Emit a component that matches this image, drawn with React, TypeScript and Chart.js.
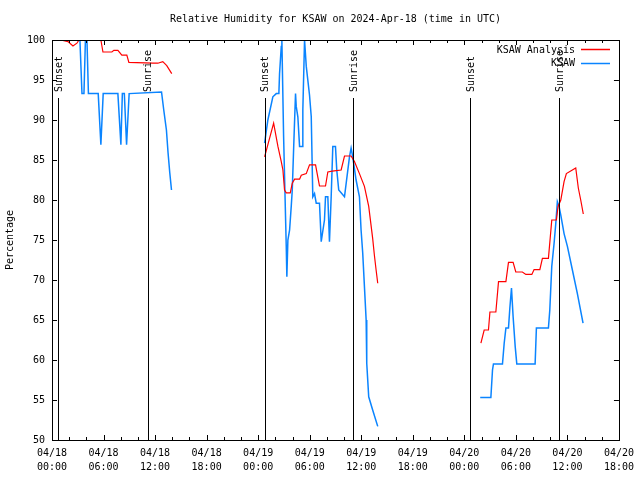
import React, { useEffect, useRef } from "react";
import { Chart, registerables } from "chart.js";

Chart.register(...registerables);

const TITLE = "Relative Humidity for KSAW on 2024-Apr-18 (time in UTC)";
const Y_TITLE = "Percentage";
const FONT = "'DejaVu Sans Mono', monospace";

const xTickDates = ["04/18", "04/18", "04/18", "04/18", "04/19", "04/19", "04/19", "04/19", "04/20", "04/20", "04/20", "04/20"];
const xTickTimes = ["00:00", "06:00", "12:00", "18:00", "00:00", "06:00", "12:00", "18:00", "00:00", "06:00", "12:00", "18:00"];

// hours since 04/18 00:00 UTC
const analysisHours = [
  1.01, 1.86, 2.44, 2.9, 3.14, 4.4, 5.69, 5.93, 6.97, 7.2, 7.67, 8.13, 8.71, 8.95, 11.74, 12.32, 12.9, 13.36, 13.94,
  19.0,
  24.75, 25.8, 26.3, 26.69, 26.88, 27.07, 27.27, 27.74, 27.97, 28.24, 28.82, 29.02, 29.6, 29.98, 30.68, 30.94, 31.14,
  31.84, 32.11, 32.62, 33.66, 34.05, 34.82, 35.21, 35.79, 36.37, 36.87, 37.33, 37.53, 37.73, 37.92,
  43.0,
  49.93, 50.31, 50.81, 50.98, 51.67, 51.98, 52.84, 53.14, 53.68, 53.99, 54.76, 55.16, 55.86, 56.12, 56.79, 57.09,
  57.79, 58.18, 58.72, 58.91, 59.23, 59.61, 59.88, 60.58, 60.97, 61.27, 61.55, 61.85,
];
const analysisValues = [
  100.0, 99.8, 99.25, 99.6, 100.0, 100.0, 100.0, 98.5, 98.5, 98.7, 98.7, 98.1, 98.1, 97.2, 97.1, 97.1, 97.3, 96.8, 95.8,
  null,
  85.4, 89.6, 86.7, 84.8, 83.75, 81.25, 80.9, 80.9, 82.1, 82.6, 82.6, 83.1, 83.3, 84.4, 84.4, 82.9, 81.75,
  81.75, 83.5, 83.6, 83.75, 85.5, 85.5, 84.8, 83.3, 81.7, 79.2, 75.2, 73.1, 71.25, 69.6,
  null,
  62.1, 63.75, 63.75, 66.0, 66.0, 69.8, 69.8, 72.2, 72.2, 71.0, 71.0, 70.7, 70.7, 71.3, 71.3, 72.7,
  72.7, 77.5, 77.5, 79.2, 80.0, 82.3, 83.3, 83.75, 84.0, 81.5, 80.0, 78.25,
];

const obsHours = [
  3.25, 3.49, 3.72, 3.89, 4.07, 4.24, 5.38, 5.69, 5.96, 7.67, 8.02, 8.19, 8.42, 8.68, 8.98, 12.75, 13.01, 13.32,
  13.51, 13.71, 13.91,
  19.0,
  24.75, 25.13, 25.71, 26.11, 26.41, 26.49, 26.69, 26.76, 26.96, 27.27, 27.34, 27.46, 27.66, 27.85, 27.97, 28.15,
  28.35, 28.43, 28.62, 28.82, 29.13, 29.2, 29.4, 29.6, 29.98, 30.18, 30.36, 30.56, 30.76, 31.14, 31.34, 31.72,
  31.84, 32.11, 32.3, 32.5, 32.69, 33.0, 33.15, 33.38, 34.05, 34.63, 34.82, 35.01, 35.4, 35.79, 35.98, 36.17,
  36.37, 36.57, 36.64, 36.87, 37.33, 37.92,
  43.0,
  49.85, 51.09, 51.28, 51.39, 52.44, 52.64, 52.84, 53.14, 53.3, 53.49, 53.68, 53.92, 54.11, 56.24, 56.39, 57.79,
  57.95, 58.18, 58.45, 58.65, 58.83, 59.03, 59.23, 59.61, 60.0, 60.58, 61.16, 61.82,
];
const obsValues = [
  100.0, 93.3, 93.3, 100.0, 100.0, 93.3, 93.3, 86.9, 93.3, 93.3, 86.9, 93.3, 93.3, 86.9, 93.3, 93.5, 91.25, 88.75,
  85.9, 83.4, 81.25,
  null,
  87.1, 90.0, 92.9, 93.3, 93.3, 95.8, 99.2, 100.0, 88.0, 74.2, 70.4, 75.0, 76.25, 79.2, 81.25, 87.1,
  93.3, 91.7, 90.4, 86.7, 86.7, 91.25, 100.0, 96.7, 93.1, 90.4, 80.4, 80.8, 79.6, 79.6, 74.8, 77.5,
  80.4, 80.4, 74.8, 80.4, 86.7, 86.7, 83.75, 81.25, 80.4, 85.4, 86.5, 85.4, 82.5, 80.4, 76.25, 73.4,
  69.2, 65.0, 59.6, 55.4, 53.75, 51.7,
  null,
  55.3, 55.3, 58.75, 59.5, 59.5, 62.1, 64.0, 64.0, 66.5, 69.0, 65.4, 61.7, 59.5, 59.5, 64.0, 64.0,
  66.25, 71.7, 74.6, 77.1, 79.8, 79.2, 78.1, 75.8, 74.2, 71.25, 68.3, 64.6,
];

const eventHours = [0.7, 11.16, 24.75, 35.09, 48.69, 59.03];
const eventLabels = ["Sunset", "Sunrise", "Sunset", "Sunrise", "Sunset", "Sunrise"];
const EVENT_TOP = 92.75;

const seriesNames = ["KSAW Analysis", "KSAW"];
const seriesColors = ["#ff0000", "#0a84ff"];

const framePlugin = {
  id: "gnuFrame",
  afterDatasetsDraw(chart: any) {
    const { ctx, chartArea } = chart;
    const { left, right, top, bottom } = chartArea;
    const xs = chart.scales.x;
    const ys = chart.scales.y;
    ctx.save();
    ctx.strokeStyle = "#000";
    ctx.lineWidth = 1;
    // frame
    ctx.strokeRect(Math.round(left) + 0.5, Math.round(top) + 0.5, Math.round(right - left), Math.round(bottom - top));
    // x ticks (every 2h, major every 6h), bottom and top
    ctx.beginPath();
    for (let h = 0; h <= 66; h += 2) {
      const px = Math.round(xs.getPixelForValue(h)) + 0.5;
      const len = h % 6 === 0 ? 5 : 3;
      ctx.moveTo(px, bottom);
      ctx.lineTo(px, bottom - len);
      ctx.moveTo(px, top);
      ctx.lineTo(px, top + len);
    }
    // y ticks every 5, left and right
    for (let v = 50; v <= 100; v += 5) {
      const py = Math.round(ys.getPixelForValue(v)) + 0.5;
      ctx.moveTo(left, py);
      ctx.lineTo(left + 5, py);
      ctx.moveTo(right, py);
      ctx.lineTo(right - 5, py);
    }
    ctx.stroke();

    // sunrise / sunset lines
    ctx.beginPath();
    const yTop = ys.getPixelForValue(EVENT_TOP);
    eventHours.forEach((h) => {
      const px = Math.round(xs.getPixelForValue(h)) + 0.5;
      ctx.moveTo(px, yTop);
      ctx.lineTo(px, bottom);
    });
    ctx.stroke();
    ctx.fillStyle = "#000";
    ctx.font = `10px ${FONT}`;
    ctx.textAlign = "left";
    ctx.textBaseline = "middle";
    eventHours.forEach((h, i) => {
      const px = xs.getPixelForValue(h) + 1;
      ctx.save();
      ctx.translate(px, yTop - 6);
      ctx.rotate(-Math.PI / 2);
      ctx.fillText(eventLabels[i], 0, 0);
      ctx.restore();
    });

    // legend
    ctx.textAlign = "right";
    ctx.textBaseline = "middle";
    seriesNames.forEach((name, i) => {
      const y = 50 + i * 13.5;
      ctx.fillStyle = "#000";
      ctx.fillText(name, 575, y);
      ctx.strokeStyle = seriesColors[i];
      ctx.lineWidth = 1.5;
      ctx.beginPath();
      ctx.moveTo(581, Math.round(y) - 0.5);
      ctx.lineTo(610, Math.round(y) - 0.5);
      ctx.stroke();
    });

    // title
    ctx.fillStyle = "#000";
    ctx.textAlign = "center";
    ctx.textBaseline = "middle";
    ctx.fillText(TITLE, (left + right) / 2, 19);
    ctx.restore();
  },
};

export default function App() {
  const ref = useRef<HTMLCanvasElement | null>(null);
  useEffect(() => {
    if (!ref.current) return;
    const analysisData = analysisHours.map((h, i) => ({ x: h, y: analysisValues[i] }));
    const obsData = obsHours.map((h, i) => ({ x: h, y: obsValues[i] }));
    const chart = new Chart(ref.current, {
      type: "line",
      data: {
        datasets: [
          {
            label: seriesNames[0],
            data: analysisData as any,
            borderColor: seriesColors[0],
            borderWidth: 1.2,
            pointRadius: 0,
            tension: 0,
            spanGaps: false,
            clip: 0,
          },
          {
            label: seriesNames[1],
            data: obsData as any,
            borderColor: seriesColors[1],
            borderWidth: 1.5,
            pointRadius: 0,
            tension: 0,
            spanGaps: false,
            clip: 0,
          },
        ],
      },
      options: {
        responsive: false,
        animation: false,
        events: [],
        layout: { padding: { top: 40, right: 20, left: 0, bottom: 0 } },
        plugins: { legend: { display: false }, title: { display: false }, tooltip: { enabled: false } },
        scales: {
          x: {
            type: "linear",
            min: 0,
            max: 66,
            grid: { display: false, drawTicks: false },
            border: { display: false },
            afterFit: (s: any) => {
              s.height = 40;
            },
            ticks: {
              stepSize: 6,
              autoSkip: false,
              maxRotation: 0,
              padding: 6,
              color: "#000",
              font: { family: FONT, size: 10, lineHeight: 1.4 },
              callback: (v: any) => {
                const i = Math.round(Number(v) / 6);
                return [xTickDates[i], xTickTimes[i]];
              },
            },
          },
          y: {
            min: 50,
            max: 100,
            grid: { display: false, drawTicks: false },
            border: { display: false },
            afterFit: (s: any) => {
              s.width = 52;
            },
            title: {
              display: true,
              text: Y_TITLE,
              color: "#000",
              font: { family: FONT, size: 10 },
              padding: { top: 4, bottom: 0 },
            },
            ticks: {
              stepSize: 5,
              padding: 7,
              color: "#000",
              font: { family: FONT, size: 10 },
            },
          },
        },
      },
      plugins: [framePlugin],
    });
    return () => chart.destroy();
  }, []);
  return (
    <div style={{ position: "fixed", left: 0, top: 0, width: 640, height: 480, background: "#fff" }}>
      <canvas ref={ref} width={640} height={480} style={{ width: 640, height: 480, display: "block" }} />
    </div>
  );
}
